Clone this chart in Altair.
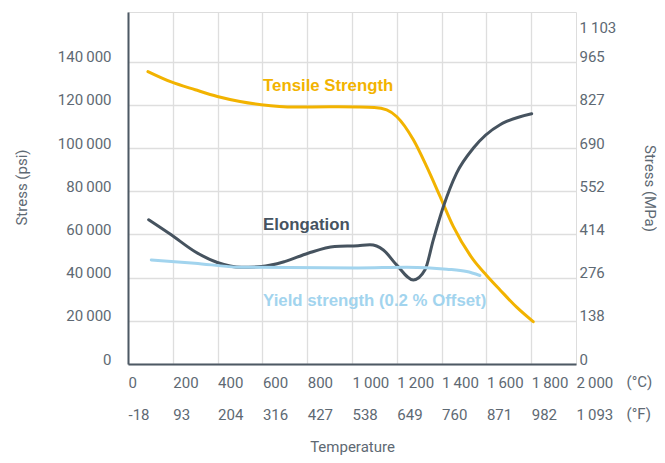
import json
import altair as alt
import pandas as pd

TS = "\u2009"  # thin space used as thousands separator

# ---- axis ticks / labels ----
temp_ticks = [0, 200, 400, 600, 800, 1000, 1200, 1400, 1600, 1800, 2000]
c_labels = ["0", "200", "400", "600", "800", f"1{TS}000", f"1{TS}200", f"1{TS}400", f"1{TS}600", f"1{TS}800", f"2{TS}000"]
f_labels = ["-18", "93", "204", "316", "427", "538", "649", "760", "871", "982", f"1{TS}093"]
psi_ticks = [0, 20000, 40000, 60000, 80000, 100000, 120000, 140000]
psi_labels = ["0", f"20{TS}000", f"40{TS}000", f"60{TS}000", f"80{TS}000", f"100{TS}000", f"120{TS}000", f"140{TS}000"]
mpa_ticks = [0, 20000, 40000, 60000, 80000, 100000, 120000, 140000, 153500]
mpa_labels = ["0", "138", "276", "414", "552", "690", "827", "965", f"1{TS}103"]
units = ["(°C)", "(°F)"]

# ---- series (x in °C, y in psi) ----
tensile_t = [89, 193, 300, 399, 500, 595, 744, 900, 1027, 1100, 1155, 1199, 1274, 1333, 1393, 1452, 1542, 1601, 1661, 1735, 1809]
tensile_v = [135400, 130600, 127000, 123900, 121600, 120100, 119000, 119100, 119000, 118800, 117700, 114600, 103800, 91500, 77600, 63700, 48200, 41000, 34300, 26300, 19600]

elong_t = [92, 193, 298, 399, 506, 595, 699, 804, 923, 1027, 1080, 1140, 1199, 1274, 1326, 1363, 1408, 1467, 1542, 1661, 1690, 1802]
elong_v = [66800, 59800, 52100, 47000, 44800, 45100, 47400, 51300, 54400, 54800, 55200, 52800, 45900, 38900, 43600, 57500, 72900, 88400, 100000, 110800, 112300, 115900]

yield_t = [104, 298, 506, 1027, 1244, 1423, 1512, 1571]
yield_v = [48200, 46700, 44800, 44500, 44800, 43900, 42800, 41000]

series_names = ["Tensile Strength", "Elongation", "Yield strength (0.2 % Offset)"]
series_colors = ["#f2b300", "#46535f", "#a2d4ee"]

ann_t = [603, 603, 603]
ann_v = [126500, 62100, 26900]

unit_t = [2226]

rows = []
for name, ts, vs in zip(series_names, [tensile_t, elong_t, yield_t], [tensile_v, elong_v, yield_v]):
    for t, v in zip(ts, vs):
        rows.append({"series": name, "temp": t, "psi": v})
df = pd.DataFrame(rows)
ann = pd.DataFrame({"series": series_names, "temp": ann_t, "psi": ann_v})
unit_df = pd.DataFrame({"temp": unit_t, "txt": ["\n".join(units)]})

LBL = "#5e6973"
DOM = "#4d5964"
GRID = "#dedede"
FONT = "Roboto"


def lookup(vals, labels):
    return f"{json.dumps(labels, ensure_ascii=False)}[indexof({json.dumps(vals)}, datum.value)]"


x_expr = f"[{lookup(temp_ticks, c_labels)}, {lookup(temp_ticks, f_labels)}]"

xscale = alt.Scale(domain=[0, 2000], nice=False, zero=False)
yscale = alt.Scale(domain=[0, 163000], nice=False)
cscale = alt.Scale(domain=series_names, range=series_colors)

x_axis = alt.Axis(
    values=temp_ticks, labelExpr=x_expr, grid=True,
    gridColor={"condition": {"test": "datum.value === 2000", "value": "transparent"}, "value": GRID},
    gridWidth=1.3, domain=True, domainColor=DOM, domainWidth=2, ticks=False, tickSize=0,
    labelAlign="left", labelBaseline="alphabetic", labelPadding=23, labelLineHeight=32,
    labelFont=FONT, labelFontSize=15, labelColor=LBL, labelFlush=False, labelOverlap=False, labelBound=False,
    title="Temperature", titleFont=FONT, titleFontSize=15, titleFontWeight="normal", titleColor=LBL,
    titleX=224, titleY=82, titleAlign="center", titleBaseline="middle",
)

y_left = alt.Axis(
    values=psi_ticks, labelExpr=lookup(psi_ticks, psi_labels), grid=True, gridColor=GRID, gridWidth=1.3,
    domain=True, domainColor=DOM, domainWidth=2, ticks=False, tickSize=0,
    labelPadding=17, labelBaseline="alphabetic", labelFont=FONT, labelFontSize=15, labelColor=LBL,
    labelOverlap=False, labelBound=False, labelFlush=False,
    title="Stress (psi)", titleFont=FONT, titleFontSize=15, titleFontWeight="normal", titleColor=LBL,
    titleX=-107, titleY=175, titleAlign="center", titleBaseline="middle",
)

y_right = alt.Axis(
    orient="right", values=mpa_ticks, labelExpr=lookup(mpa_ticks, mpa_labels), grid=False,
    domain=False, ticks=False, tickSize=0,
    labelPadding=3, labelAlign="left", labelBaseline="alphabetic", labelFont=FONT, labelFontSize=15,
    labelColor=LBL, labelOverlap=False, labelBound=False, labelFlush=False,
    title="Stress (MPa)", titleFont=FONT, titleFontSize=15, titleFontWeight="normal", titleColor=LBL,
    titleX=73, titleY=176, titleAlign="center", titleBaseline="middle",
)

lines = alt.Chart(df).mark_line(interpolate="monotone", strokeWidth=3, strokeCap="round").encode(
    x=alt.X("temp:Q", scale=xscale, axis=x_axis),
    y=alt.Y("psi:Q", scale=yscale, axis=y_left),
    color=alt.Color("series:N", scale=cscale, legend=None),
    detail="series:N",
    order="temp:Q",
)

labels = alt.Chart(ann).mark_text(
    align="left", baseline="alphabetic", font="Liberation Sans", fontSize=16.8, fontWeight="bold"
).encode(
    x=alt.X("temp:Q", scale=xscale, axis=None),
    y=alt.Y("psi:Q", scale=yscale, axis=y_right),
    text="series:N",
    color=alt.Color("series:N", scale=cscale, legend=None),
)

unit_text = alt.Chart(unit_df).mark_text(
    align="left", baseline="alphabetic", font=FONT, fontSize=15, color=LBL, lineBreak="\n", lineHeight=32
).encode(
    x=alt.X("temp:Q", scale=xscale, axis=None),
    y=alt.value(375),
    text="txt:N",
)

chart = alt.layer(lines, labels, unit_text).resolve_axis(
    x="independent", y="independent"
).resolve_scale(x="shared", y="shared").properties(
    width=448, height=352,
    autosize=alt.AutoSizeParams(type="none"),
    padding={"left": 120, "top": 4, "right": 81, "bottom": 91},
).configure_view(stroke=None).configure(background="white")

chart.save("out.html", embed_options={"renderer": "svg", "actions": False})
